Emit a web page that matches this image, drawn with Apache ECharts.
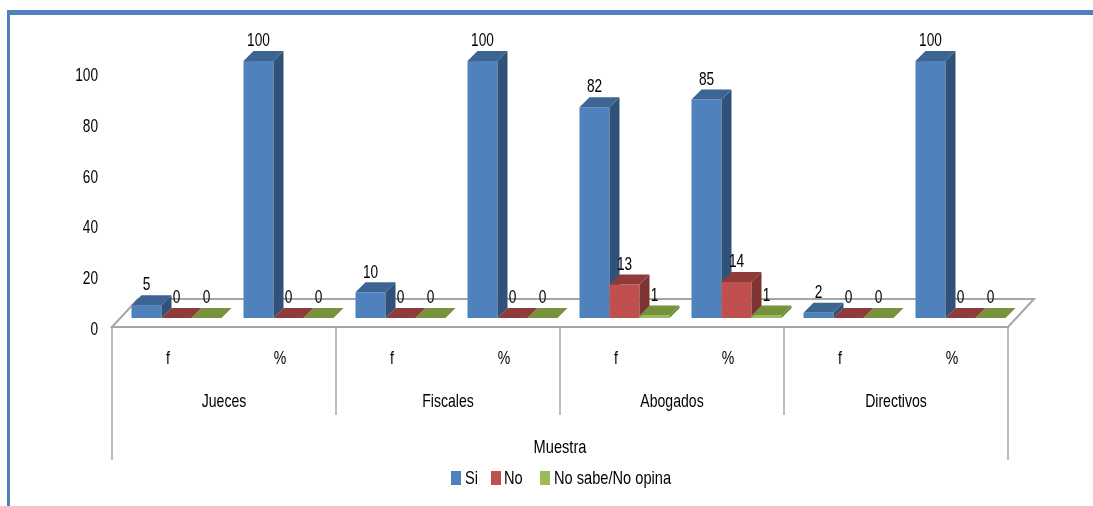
<!DOCTYPE html>
<html>
<head>
<meta charset="utf-8">
<style>html,body{margin:0;padding:0;background:#fff}#chart{width:1093px;height:506px}</style>
<script src="https://cdn.jsdelivr.net/npm/echarts@6/dist/echarts.min.js"></script>
</head>
<body>
<div id="chart"></div>
<script>
// Survey answers per respondent group, as frequency (f) and percentage (%)
const subCategories = ['f', '%', 'f', '%', 'f', '%', 'f', '%'];
const groups = ['Jueces', 'Fiscales', 'Abogados', 'Directivos'];
const axisTitle = ['Muestra'];
const yTicks = [0, 20, 40, 60, 80, 100];
const legendNames = ['Si', 'No', 'No sabe/No opina'];
const si = [5, 100, 10, 100, 82, 85, 2, 100];
const no = [0, 0, 0, 0, 13, 14, 0, 0];
const noSabe = [0, 0, 0, 0, 1, 1, 0, 0];

const FONT = '"Liberation Sans", sans-serif';
const TEXT_SIZE = 19;
const GRAY = '#a6a6a6';
const shades = {
  si: { front: '#4f81bd', top: '#3c6594', side: '#2f5279' },
  no: { front: '#c0504d', top: '#8f3b39', side: '#7e3432' },
  nosabe: { front: '#9bbb59', top: '#76923c', side: '#667f33' }
};
// Oblique projection: the floor recedes up and to the right, bars stand mid-floor
const floorDepth = [26, -28];
const barInset = [8.5, -9];
const barDepth = [10, -10];
const barShare = 30 / 112;

function poly(points, fill) {
  return { type: 'polygon', shape: { points }, style: { fill, stroke: null } };
}

// The face has no condensed cut installed, so narrow text is squeezed horizontally
function narrowText(text, x, y, squeeze, align) {
  return {
    type: 'text', x, y, scaleX: squeeze, z2: 10,
    style: {
      text: String(text), x: 0, y: 0,
      align: align || 'center', verticalAlign: 'middle',
      font: TEXT_SIZE + 'px ' + FONT, fill: '#000'
    }
  };
}

function barRenderer(shade, slot) {
  return function (params, api) {
    const band = api.size([1, 0])[0];
    const w = band * barShare;
    const base = api.coord([api.value(0), 0]);
    const head = api.coord([api.value(0), api.value(1)]);
    const x0 = base[0] + barInset[0] + (slot - 1.5) * w;
    const x1 = x0 + w;
    const yb = base[1] + barInset[1];
    const yt = head[1] + barInset[1];
    const dx = barDepth[0], dy = barDepth[1];
    const children = [];
    if (api.value(1) > 0) {
      children.push(poly([[x0, yb], [x1, yb], [x1, yt], [x0, yt]], shade.front));
      children.push(poly([[x1, yb], [x1 + dx, yb + dy], [x1 + dx, yt + dy], [x1, yt]], shade.side));
    }
    children.push(poly([[x0, yt], [x1, yt], [x1 + dx, yt + dy], [x0 + dx, yt + dy]], shade.top));
    children.push(narrowText(api.value(1), (x0 + x1) / 2, yt - 20, 0.72));
    return { type: 'group', children };
  };
}

function floorRenderer(params, api) {
  const band = api.size([1, 0])[0];
  const a = api.coord([0, 0]);
  const left = a[0] - band / 2;
  const right = left + band * subCategories.length;
  const y = a[1];
  const [dx, dy] = floorDepth;
  return {
    type: 'polygon',
    shape: { points: [[left, y], [right, y], [right + dx, y + dy], [left + dx, y + dy]] },
    style: { fill: '#fff', stroke: GRAY, lineWidth: 2 }
  };
}

function barSeries(name, values, shade, slot) {
  return {
    type: 'custom', name, xAxisIndex: 0, yAxisIndex: 0, z: 3,
    itemStyle: { color: shade.front },
    encode: { x: 0, y: 1 },
    data: values.map((v, i) => [i, v]),
    renderItem: barRenderer(shade, slot)
  };
}

// One row of category labels, hung below the axis at a fixed drop
function categoryLabels(axisIndex, labels, drop, squeeze) {
  return {
    type: 'custom', xAxisIndex: axisIndex, yAxisIndex: 0, z: 4, silent: true,
    encode: { x: 0, y: 1 },
    data: labels.map((_, i) => [i, 0]),
    renderItem(params, api) {
      const p = api.coord([api.value(0), 0]);
      return narrowText(labels[params.dataIndex], p[0], p[1] + drop, squeeze);
    }
  };
}

function tickLabels() {
  return {
    type: 'custom', xAxisIndex: 3, yAxisIndex: 1, z: 4, silent: true,
    encode: { x: 0, y: 1 },
    data: yTicks.map(t => [0, t]),
    renderItem(params, api) {
      const p = api.coord([0, api.value(1)]);
      return narrowText(api.value(1), params.coordSys.x - 14, p[1] + 1, 0.72, 'right');
    }
  };
}

function legendEntry(index, left) {
  return {
    left, top: 471, padding: 0, itemWidth: 10, itemHeight: 14, icon: 'rect',
    data: [legendNames[index]], formatter: () => ''
  };
}

function legendText(index, x, squeeze) {
  return Object.assign(narrowText(legendNames[index], x, 479, squeeze, 'left'), { silent: true });
}

const groupTick = length => ({ show: true, length, lineStyle: { color: GRAY, width: 1.5 } });

const option = {
  animation: false,
  backgroundColor: '#fff',
  grid: [
    { left: 112, width: 896, top: 70, height: 257, outerBoundsMode: 'none' },
    { left: 112, width: 896, top: 74.5, height: 254.5, outerBoundsMode: 'none' }
  ],
  xAxis: [
    { type: 'category', gridIndex: 0, position: 'bottom', data: subCategories, axisLine: { show: true, lineStyle: { color: GRAY, width: 2 } }, axisTick: { show: false }, axisLabel: { show: false } },
    { type: 'category', gridIndex: 0, position: 'bottom', data: groups, axisLine: { show: false }, axisTick: groupTick(88), axisLabel: { show: false } },
    { type: 'category', gridIndex: 0, position: 'bottom', data: axisTitle, axisLine: { show: false }, axisTick: groupTick(133), axisLabel: { show: false } },
    { type: 'category', gridIndex: 1, position: 'bottom', data: subCategories, show: false }
  ],
  yAxis: [
    { type: 'value', gridIndex: 0, min: 0, max: 100, show: false },
    {
      type: 'value', gridIndex: 1, min: yTicks[0], max: yTicks[yTicks.length - 1], interval: yTicks[1] - yTicks[0],
      axisLine: { show: false }, axisTick: { show: false }, splitLine: { show: false }, axisLabel: { show: false }
    }
  ],
  legend: [legendEntry(0, 451), legendEntry(1, 491), legendEntry(2, 540)],
  graphic: [
    { type: 'rect', shape: { x: 7, y: 10, width: 1086, height: 5 }, style: { fill: '#4f81bd' } },
    { type: 'rect', shape: { x: 7, y: 10, width: 3, height: 496 }, style: { fill: '#4f81bd' } },
    legendText(0, 465, 0.77),
    legendText(1, 504, 0.77),
    legendText(2, 554, 0.77)
  ],
  series: [
    {
      type: 'custom', xAxisIndex: 0, yAxisIndex: 0, z: 1, silent: true,
      data: [[0, 0]], encode: { x: 0, y: 1 }, renderItem: floorRenderer
    },
    barSeries(legendNames[0], si, shades.si, 0),
    barSeries(legendNames[1], no, shades.no, 1),
    barSeries(legendNames[2], noSabe, shades.nosabe, 2),
    categoryLabels(0, subCategories, 32, 0.74),
    categoryLabels(1, groups, 75, 0.74),
    categoryLabels(2, axisTitle, 121, 0.77),
    tickLabels()
  ]
};

echarts.init(document.getElementById('chart')).setOption(option);
</script>
</body>
</html>
